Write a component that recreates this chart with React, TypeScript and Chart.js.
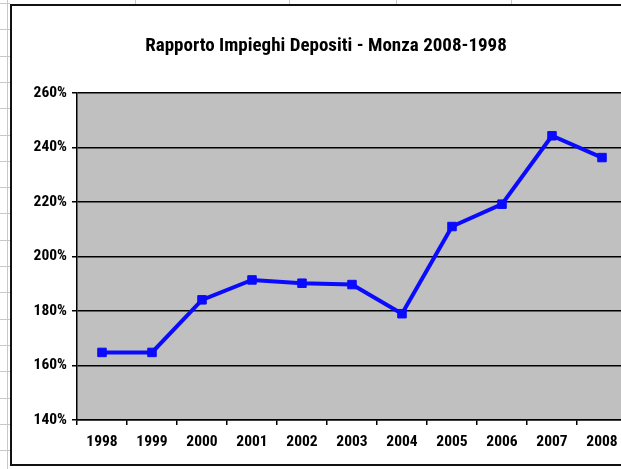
import React, { useEffect, useRef } from "react";
import { Chart, registerables } from "chart.js";

Chart.register(...registerables);

const TITLE = "Rapporto Impieghi Depositi - Monza 2008-1998";
const YEARS = ["1998", "1999", "2000", "2001", "2002", "2003", "2004", "2005", "2006", "2007", "2008"];
const RATIO = [164.8, 164.8, 184.1, 191.4, 190.2, 189.7, 179.0, 211.0, 219.2, 244.3, 236.3];
const Y_MIN = 140;
const Y_MAX = 260;
const Y_STEP = 20;

const FONT = "'Roboto Condensed', 'Liberation Sans', Arial, sans-serif";

const framePlugin = {
  id: "frame",
  beforeDraw(chart: any) {
    const { ctx, chartArea } = chart;
    const W = chart.width;
    const H = chart.height;
    ctx.save();
    ctx.fillStyle = "#ffffff";
    ctx.fillRect(0, 0, W, H);
    // spreadsheet cells outside the chart object
    ctx.strokeStyle = "#c8c8c8";
    ctx.lineWidth = 1;
    for (let y = 3; y < H; y += 26.3) {
      ctx.beginPath();
      ctx.moveTo(0, Math.round(y) + 0.5);
      ctx.lineTo(10, Math.round(y) + 0.5);
      ctx.stroke();
    }
    ctx.beginPath();
    ctx.moveTo(7.5, 0);
    ctx.lineTo(7.5, H);
    ctx.stroke();
    [135, 289, 396, 511].forEach((x) => {
      ctx.beginPath();
      ctx.moveTo(x + 0.5, 0);
      ctx.lineTo(x + 0.5, 4);
      ctx.stroke();
    });
    // chart object border: left, top and bottom edges (right edge is outside the view)
    ctx.fillStyle = "#111111";
    ctx.fillRect(10, 4, W, 2);
    ctx.fillRect(10, 4, 2, 462);
    ctx.fillRect(10, 464, W, 2);
    // plot area background
    ctx.fillStyle = "#c0c0c0";
    ctx.fillRect(chartArea.left, chartArea.top, chartArea.right - chartArea.left, chartArea.bottom - chartArea.top);
    ctx.restore();
  },
};

export default function App() {
  const ref = useRef<HTMLCanvasElement>(null);

  useEffect(() => {
    if (!ref.current) return;
    const chart = new Chart(ref.current, {
      type: "line",
      data: {
        labels: YEARS,
        datasets: [
          {
            data: RATIO,
            borderColor: "#0a0aff",
            backgroundColor: "#0a0aff",
            borderWidth: 4,
            pointStyle: "rect",
            pointRadius: 6,
            pointBorderWidth: 1,
            pointBorderColor: "#0a0aff",
            pointBackgroundColor: "#0a0aff",
            tension: 0,
          },
        ],
      },
      options: {
        animation: false,
        responsive: false,
        devicePixelRatio: 1,
        layout: { padding: { left: 18, right: 0, top: 0, bottom: 0 } },
        plugins: {
          legend: { display: false },
          tooltip: { enabled: false },
          title: {
            display: true,
            text: TITLE,
            color: "#000000",
            font: { family: FONT, size: 19, weight: "bold", lineHeight: 1.2 },
            padding: { top: 35, bottom: 35.2 },
          },
        },
        scales: {
          x: {
            type: "category",
            offset: true,
            grid: {
              offset: true,
              drawOnChartArea: false,
              drawTicks: true,
              tickLength: 5,
              color: "#000000",
              lineWidth: 1.5,
            },
            border: { display: true, color: "#000000", width: 1.5 },
            ticks: {
              color: "#000000",
              padding: 8,
              maxRotation: 0,
              autoSkip: false,
              font: { family: FONT, size: 15.5, weight: "bold" },
            },
            afterFit: (scale: any) => {
              scale.height = 49;
              scale.paddingLeft = 0;
              scale.paddingRight = 0;
            },
          },
          y: {
            min: Y_MIN,
            max: Y_MAX,
            grid: {
              drawOnChartArea: true,
              drawTicks: true,
              tickLength: 5,
              color: "#000000",
              lineWidth: 1.5,
            },
            border: { display: true, color: "#000000", width: 1.5 },
            ticks: {
              stepSize: Y_STEP,
              color: "#000000",
              padding: 5,
              font: { family: FONT, size: 15.5, weight: "bold" },
              callback: (v: any) => `${v}%`,
            },
            afterFit: (scale: any) => {
              scale.width = 59;
            },
          },
        },
      },
      plugins: [framePlugin],
    });
    return () => chart.destroy();
  }, []);

  return (
    <div style={{ position: "fixed", left: 0, top: 0, width: 621, height: 469, background: "#fff", overflow: "hidden" }}>
      <canvas ref={ref} width={634} height={469} style={{ display: "block", width: 634, height: 469 }} />
    </div>
  );
}
